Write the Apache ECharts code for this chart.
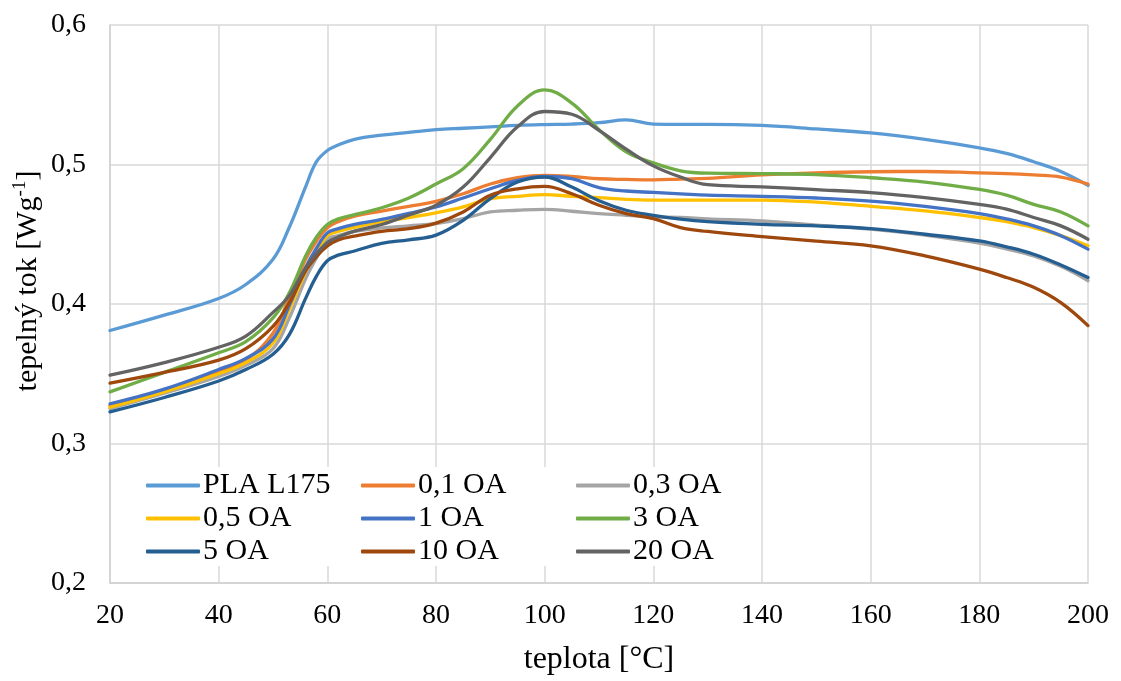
<!DOCTYPE html>
<html>
<head>
<meta charset="utf-8">
<script src="https://cdn.jsdelivr.net/npm/echarts@6/dist/echarts.min.js"></script>
<style>
html,body{margin:0;padding:0;background:#fff;}
#chart{width:1121px;height:681px;}
</style>
</head>
<body>
<div id="chart"></div>
<script>
var temps = [20,30,40,45,50,53,56,58,60,62,65,70,75,80,85,90,95,100,105,110,115,120,125,130,140,150,160,170,180,185,190,195,200];

var pla    = [0.381,0.392,0.404,0.414,0.432,0.455,0.484,0.502,0.510,0.514,0.518,0.521,0.523,0.525,0.526,0.527,0.528,0.5286,0.529,0.530,0.532,0.529,0.5288,0.5288,0.528,0.5255,0.5226,0.518,0.512,0.508,0.502,0.495,0.485];
var oa01   = [0.327,0.338,0.352,0.360,0.379,0.405,0.432,0.445,0.4547,0.459,0.463,0.4666,0.470,0.4736,0.479,0.486,0.4905,0.4922,0.4914,0.4898,0.4893,0.489,0.4895,0.490,0.4925,0.494,0.4948,0.495,0.494,0.4935,0.4925,0.491,0.486];
var oa03   = [0.325,0.336,0.348,0.356,0.368,0.390,0.418,0.433,0.4464,0.449,0.452,0.4545,0.456,0.4577,0.4612,0.466,0.4672,0.4679,0.4665,0.4648,0.4636,0.4624,0.462,0.461,0.4595,0.4565,0.4536,0.4493,0.4436,0.4395,0.4345,0.427,0.4167];
var oa05   = [0.326,0.337,0.350,0.358,0.372,0.396,0.423,0.437,0.449,0.452,0.455,0.459,0.462,0.4653,0.4696,0.4755,0.4772,0.4784,0.4772,0.4762,0.475,0.4745,0.4745,0.4745,0.4745,0.473,0.470,0.4667,0.462,0.459,0.4548,0.449,0.4417];
var oa1    = [0.3285,0.339,0.353,0.361,0.375,0.399,0.426,0.440,0.451,0.454,0.457,0.4606,0.465,0.4696,0.476,0.4826,0.4886,0.4914,0.4898,0.4835,0.481,0.480,0.479,0.478,0.4772,0.476,0.4738,0.470,0.4648,0.461,0.456,0.449,0.4393];
var oa3    = [0.337,0.351,0.365,0.373,0.390,0.408,0.4345,0.448,0.457,0.461,0.464,0.469,0.476,0.486,0.497,0.518,0.542,0.5535,0.544,0.525,0.509,0.5012,0.4955,0.4938,0.4935,0.4928,0.4905,0.4874,0.4821,0.478,0.4714,0.466,0.456];
var oa5    = [0.3227,0.333,0.3448,0.353,0.364,0.378,0.404,0.420,0.431,0.435,0.438,0.4435,0.446,0.4494,0.460,0.4755,0.4874,0.491,0.4838,0.474,0.4672,0.4636,0.4608,0.459,0.4571,0.456,0.454,0.450,0.4452,0.441,0.4357,0.428,0.419];
var oa10   = [0.3433,0.351,0.3598,0.368,0.384,0.401,0.4238,0.434,0.4416,0.446,0.4487,0.452,0.454,0.458,0.466,0.478,0.4826,0.4843,0.479,0.4708,0.4648,0.4612,0.4548,0.452,0.4483,0.445,0.4417,0.4345,0.425,0.419,0.412,0.401,0.3845];
var oa20   = [0.349,0.358,0.369,0.377,0.394,0.406,0.426,0.436,0.444,0.448,0.4523,0.457,0.4638,0.4708,0.4838,0.505,0.527,0.538,0.536,0.5245,0.511,0.499,0.491,0.4855,0.484,0.482,0.4798,0.4762,0.4714,0.468,0.462,0.456,0.4464];

var names  = ['PLA L175','0,1 OA','0,3 OA','0,5 OA','1 OA','3 OA','5 OA','10 OA','20 OA'];
var values = [pla, oa01, oa03, oa05, oa1, oa3, oa5, oa10, oa20];
var colors = ['#5B9BD5','#ED7D31','#A5A5A5','#FFC000','#4472C4','#70AD47','#255E91','#9E480E','#636363'];

var xTicks = {min:20, max:200, interval:20};
var yTicks = {min:0.2, max:0.6, interval:0.1};

var FONT = '"Liberation Serif", "Times New Roman", serif';

var series = names.map(function(n, i){
  return {
    name: n,
    type: 'line',
    data: temps.map(function(t, j){ return [t, values[i][j]]; }),
    smooth: 0.4,
    symbol: 'none',
    showSymbol: false,
    lineStyle: {width: 3.3, color: colors[i], cap: 'round', join: 'round'},
    itemStyle: {color: colors[i]},
    z: 2 + i
  };
});

function legendCol(left, items){
  return {
    orient: 'vertical',
    left: left,
    top: 469,
    icon: 'roundRect',
    itemWidth: 54,
    itemHeight: 4,
    itemGap: 0,
    padding: 0,
    data: items,
    selectedMode: false,
    textStyle: {fontFamily: FONT, fontSize: 30, color: '#000', lineHeight: 33, padding: [0,0,0,-2]},
    z: 10
  };
}

var chart = echarts.init(document.getElementById('chart'), null, {renderer: 'canvas'});
chart.setOption({
  animation: false,
  backgroundColor: '#fff',
  grid: {left: 110, right: 33, top: 25, bottom: 96, containLabel: false},
  xAxis: {
    type: 'value',
    min: xTicks.min, max: xTicks.max, interval: xTicks.interval,
    axisLine: {show: true, lineStyle: {color: '#d0d0d0', width: 1.5}},
    axisTick: {show: false},
    splitLine: {show: true, lineStyle: {color: '#d9d9d9', width: 1.5}},
    axisLabel: {fontFamily: FONT, fontSize: 28, color: '#000', margin: 19},
    name: 'teplota [°C]',
    nameLocation: 'middle',
    nameGap: 61,
    nameTextStyle: {fontFamily: FONT, fontSize: 32, color: '#000'}
  },
  yAxis: {
    type: 'value',
    min: yTicks.min, max: yTicks.max, interval: yTicks.interval,
    axisLine: {show: true, lineStyle: {color: '#d0d0d0', width: 1.5}},
    axisTick: {show: false},
    splitLine: {show: true, lineStyle: {color: '#d9d9d9', width: 1.5}},
    axisLabel: {
      fontFamily: FONT, fontSize: 28, color: '#000', margin: 24,
      formatter: function(v){ return v.toFixed(1).replace('.', ','); }
    }
  },
  legend: [
    legendCol(146, ['PLA L175','0,5 OA','5 OA']),
    legendCol(361, ['0,1 OA','1 OA','10 OA']),
    legendCol(576, ['0,3 OA','3 OA','20 OA'])
  ],
  graphic: [
    {
      type: 'rect', z: 1, silent: true,
      shape: {x: 112, y: 467, width: 622, height: 99},
      style: {fill: '#fff'}
    },
    {
      type: 'text', z: 10, silent: true,
      x: 28, y: 281, rotation: Math.PI/2,
      style: {
        text: '{a|tepelný tok [Wg}{s|-1}{a|]}',
        align: 'center', verticalAlign: 'middle',
        rich: {
          a: {fontFamily: FONT, fontSize: 30, fill: '#000', lineHeight: 34},
          s: {fontFamily: FONT, fontSize: 19, fill: '#000', verticalAlign: 'top', lineHeight: 34}
        }
      }
    }
  ],
  series: series
});
</script>
</body>
</html>
